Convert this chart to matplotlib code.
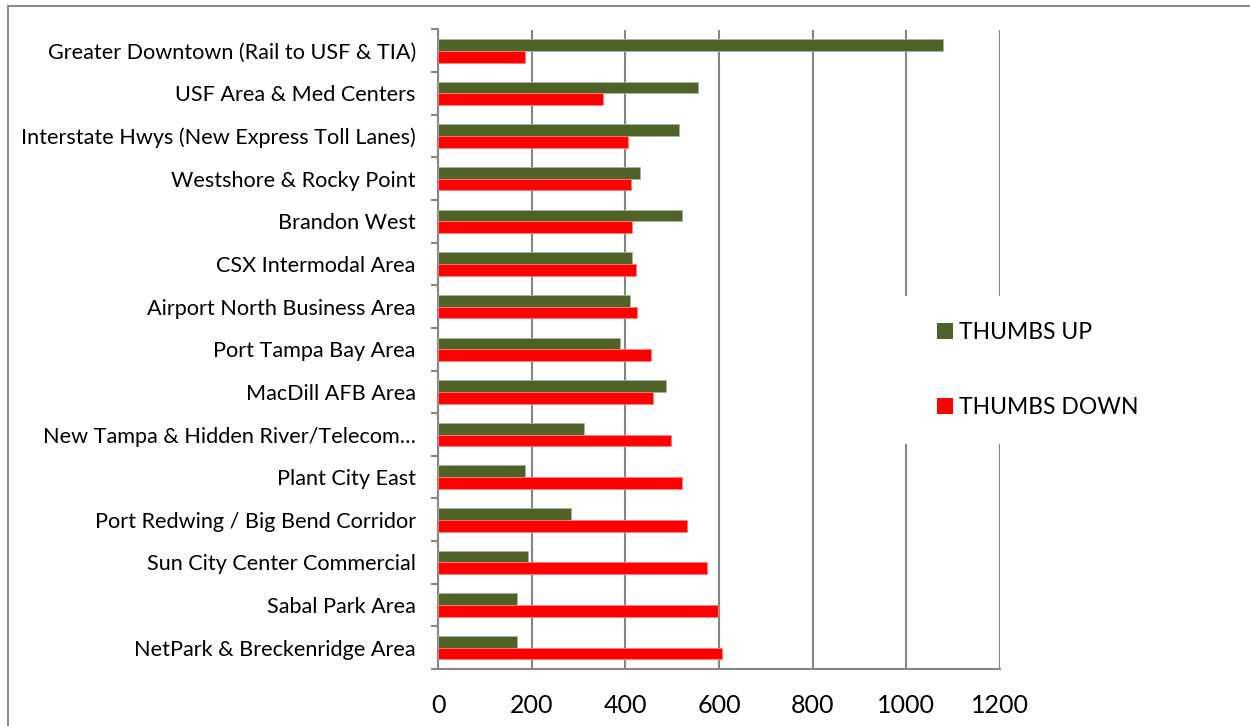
import matplotlib
matplotlib.use("Agg")
import matplotlib.pyplot as plt
import numpy as np
from matplotlib.patches import Rectangle

categories = [
    "Greater Downtown (Rail to USF & TIA)",
    "USF Area & Med Centers",
    "Interstate Hwys (New Express Toll Lanes)",
    "Westshore & Rocky Point",
    "Brandon West",
    "CSX Intermodal Area",
    "Airport North Business Area",
    "Port Tampa Bay Area",
    "MacDill AFB Area",
    "New Tampa & Hidden River/Telecom\u2026",
    "Plant City East",
    "Port Redwing / Big Bend Corridor",
    "Sun City Center Commercial",
    "Sabal Park Area",
    "NetPark & Breckenridge Area",
]
thumbs_up = [1078, 555, 515, 432, 522, 415, 409, 388, 487, 312, 186, 284, 192, 169, 169]
thumbs_down = [186, 353, 406, 412, 414, 422, 424, 455, 460, 498, 520, 532, 575, 598, 606]
x_ticks = [0, 200, 400, 600, 800, 1000, 1200]

plt.rcParams['font.family'] = ['Lato', 'DejaVu Sans']

W, H = 1250, 726
fig = plt.figure(figsize=(W / 100, H / 100), dpi=100)
ax = fig.add_axes([438 / W, 1 - 669 / H, (1000 - 438) / W, (669 - 29.5) / H])

grid_c = "#868686"
green = "#4F6228"
red = "#FF0000"

y = np.arange(len(categories))
h = 0.275
ax.barh(y - h / 2, thumbs_up, height=h, color=green, edgecolor="#A9B396", linewidth=0.6,
        label="THUMBS UP", zorder=3)
ax.barh(y + h / 2, thumbs_down, height=h, color=red, edgecolor="#FF8080", linewidth=0.6,
        label="THUMBS DOWN", zorder=3)

ax.set_ylim(len(categories) - 0.5, -0.5)
ax.set_xlim(0, 1200)
ax.set_xticks(x_ticks)
ax.set_xticklabels([str(t) for t in x_ticks], fontsize=18)
ax.set_yticks(y)
ax.set_yticklabels(categories, fontsize=15.6)
ax.tick_params(axis='y', length=0, pad=16)
ax.tick_params(axis='x', length=0, pad=18)

# minor ticks at category boundaries and major x positions
ax.set_yticks(np.arange(-0.5, len(categories), 1), minor=True)
ax.tick_params(axis='y', which='minor', length=5, width=1.5, color=grid_c, direction='out')
ax.set_xticks(x_ticks, minor=True)
ax.tick_params(axis='x', which='minor', length=5, width=1.5, color=grid_c, direction='out')

ax.grid(axis='x', color=grid_c, linewidth=1.5, zorder=0)
for s in ['top', 'right']:
    ax.spines[s].set_visible(False)
for s in ['left', 'bottom']:
    ax.spines[s].set_color(grid_c)
    ax.spines[s].set_linewidth(1.5)

# white legend area covering gridlines
ax.add_patch(Rectangle((904 / W, 1 - 444 / H), 0.2, 148 / H, transform=fig.transFigure,
                       facecolor="white", edgecolor="none", clip_on=False, zorder=5))

leg = ax.legend(loc='center left', bbox_to_anchor=(937 / W, 1 - 370 / H), bbox_transform=fig.transFigure,
                frameon=False, fontsize=16.5, handlelength=0.7, handleheight=0.75, handletextpad=0.25,
                labelspacing=2.35, borderpad=0, borderaxespad=0)
for p in leg.get_patches():
    p.set_linewidth(0)
leg.set_zorder(10)

# outer chart frame (extends beyond right/bottom)
fig.patches.append(Rectangle((7.5 / W, -0.1), 1.2, 1 - 6.5 / H + 0.1, transform=fig.transFigure,
                             fill=False, edgecolor="#8C8C8C", linewidth=1.5, zorder=0))

fig.savefig("out.png", dpi=100, facecolor="white")
